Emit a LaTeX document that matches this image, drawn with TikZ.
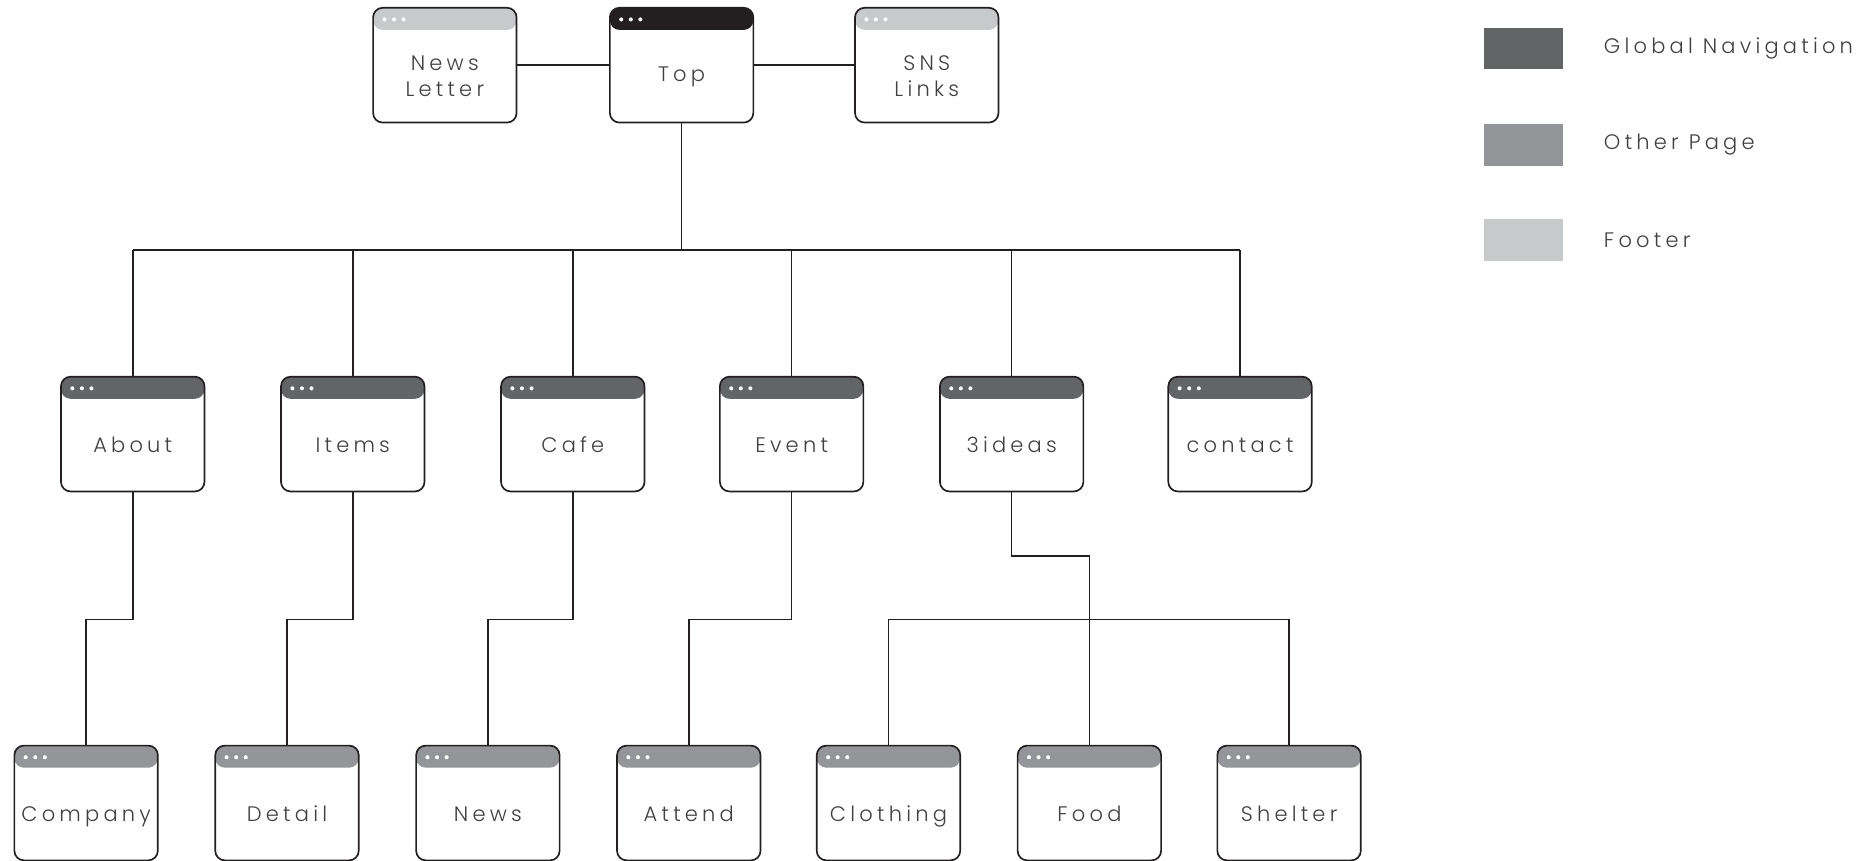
\documentclass[tikz,border=0pt]{standalone}
\usepackage{fontspec}
\IfFontExistsTF{Poppins Light}{\setmainfont{Poppins Light}[LetterSpace=20]}{\setmainfont{Poppins}[LetterSpace=20]}
\definecolor{gnav}{HTML}{636466}
\definecolor{other}{HTML}{939598}
\definecolor{foot}{HTML}{C8C9CB}
\definecolor{topc}{HTML}{231F20}
\definecolor{txt}{HTML}{404040}
\definecolor{ln}{HTML}{231F20}
\tikzset{
  win/.style={draw=ln, line width=0.8pt, rounded corners=0.16cm,
    minimum width=2.4cm, minimum height=1.92cm, inner sep=0pt,
    path picture={
      \fill[#1] (path picture bounding box.north west) rectangle ([yshift=-0.37cm]path picture bounding box.north east);
      \foreach \i in {0,1,2}
        \fill[white] ([xshift=0.19cm+\i*0.16cm, yshift=-0.195cm]path picture bounding box.north west) circle (0.034cm);
    }},
  wintext/.style={text=txt, align=center, font=\fontsize{10}{12.5}\selectfont, inner sep=0pt},
  oneline/.style={text height=0.72em, text depth=0.22em},
  lowline/.style={oneline, yshift=-1.2pt},
  conn/.style={draw=ln, line width=0.75pt},
  legbox/.style={minimum width=1.32cm, minimum height=0.7cm, inner sep=0pt, fill=#1},
  legtext/.style={text=txt, anchor=west, font=\fontsize{10}{12.5}\selectfont, inner sep=0pt}
}
\newcommand\mkwin[6][lowline]{%
  \node[win=#5] (#2) at (#3,#4) {};
  \node[wintext,#1] (#2-t) at ([yshift=-0.18cm]#2.center) {#6};
}
\begin{document}
\begin{tikzpicture}[x=0.02cm,y=-0.02cm]
\useasboundingbox (0,0) rectangle (1568,720);
% top row
\mkwin[]{nl}{372}{54.5}{foot}{News\\Letter}
\mkwin[oneline]{top}{570}{54.5}{topc}{Top}
\mkwin[]{sns}{775}{54.5}{foot}{SNS\\Links}
% middle row
\mkwin{about}{111}{363}{gnav}{About}
\mkwin{items}{295}{363}{gnav}{Items}
\mkwin{cafe}{479}{363}{gnav}{Cafe}
\mkwin{event}{662}{363}{gnav}{Event}
\mkwin{ideas}{846}{363}{gnav}{3ideas}
\mkwin{contact}{1037}{363}{gnav}{contact}
% bottom row
\mkwin{company}{72}{671.5}{other}{Company}
\mkwin{detail}{240}{671.5}{other}{Detail}
\mkwin{news}{408}{671.5}{other}{News}
\mkwin{attend}{576}{671.5}{other}{Attend}
\mkwin{clothing}{743}{671.5}{other}{Clothing}
\mkwin{food}{911}{671.5}{other}{Food}
\mkwin{shelter}{1078}{671.5}{other}{Shelter}
% helper coordinates
\coordinate (bus) at (0,209);
\coordinate (mid) at (0,518);
\coordinate (sub) at (0,465);
% connectors
\draw[conn] (nl.east) -- (top.west);
\draw[conn] (top.east) -- (sns.west);
\draw[conn] (top.south) -- (top.south |- bus);
\draw[conn] (about.north |- bus) -- (contact.north |- bus);
\foreach \n in {about,items,cafe,event,ideas,contact}
  \draw[conn] (\n.north) -- (\n.north |- bus);
\draw[conn] (about.south) -- (about.south |- mid) -| (company.north);
\draw[conn] (items.south) -- (items.south |- mid) -| (detail.north);
\draw[conn] (cafe.south) -- (cafe.south |- mid) -| (news.north);
\draw[conn] (event.south) -- (event.south |- mid) -| (attend.north);
\draw[conn] (ideas.south) -- (ideas.south |- sub) -| (food.north);
\draw[conn] (clothing.north) -- (clothing.north |- mid) -| (shelter.north);
% legend
\node[legbox=gnav] (lg1) at (1274,40.5) {};
\node[legbox=other] (lg2) at (1274,121) {};
\node[legbox=foot] (lg3) at (1274,201) {};
\node[legtext] (lt1) at (1341,40.5) {Global Navigation};
\node[legtext] (lt2) at (1341,121) {Other Page};
\node[legtext] (lt3) at (1341,201) {Footer};
\end{tikzpicture}
\end{document}
